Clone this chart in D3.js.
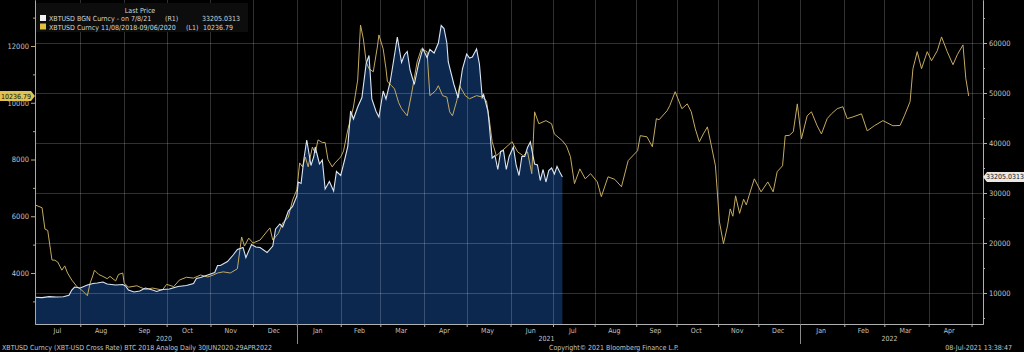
<!DOCTYPE html>
<html>
<head>
<meta charset="utf-8">
<script src="https://cdn.jsdelivr.net/npm/d3@7"></script>
<style>
  body { margin: 0; background: #000; }
  svg { display: block; }
</style>
</head>
<body>
<svg id="chart" width="1024" height="352"></svg>
<script>
// ---- data ----
// R1: XBTUSD BGN Curncy, daily, 30 Jun 2020 -> 8 Jul 2021 (right axis)
const btcDates = [
  "2020-06-30","2020-07-05","2020-07-10","2020-07-15","2020-07-20","2020-07-24","2020-07-26","2020-07-28",
  "2020-08-01","2020-08-06","2020-08-10","2020-08-13","2020-08-17","2020-08-20","2020-08-26","2020-08-31",
  "2020-09-02","2020-09-04","2020-09-08","2020-09-12","2020-09-16","2020-09-21","2020-09-24","2020-09-28",
  "2020-10-03","2020-10-09","2020-10-15","2020-10-20","2020-10-22","2020-10-25","2020-10-30","2020-11-04",
  "2020-11-06","2020-11-08","2020-11-13","2020-11-17","2020-11-20","2020-11-24","2020-11-26","2020-11-30",
  "2020-12-03","2020-12-06","2020-12-11","2020-12-15","2020-12-17","2020-12-20","2020-12-22","2020-12-26",
  "2020-12-29","2021-01-01","2021-01-02","2021-01-04","2021-01-06","2021-01-08","2021-01-11","2021-01-13",
  "2021-01-14","2021-01-17","2021-01-19","2021-01-21","2021-01-24","2021-01-27","2021-01-29","2021-02-01",
  "2021-02-04","2021-02-06","2021-02-08","2021-02-10","2021-02-13","2021-02-16","2021-02-19","2021-02-21",
  "2021-02-23","2021-02-26","2021-02-28","2021-03-03","2021-03-05","2021-03-08","2021-03-10","2021-03-13",
  "2021-03-16","2021-03-18","2021-03-20","2021-03-22","2021-03-25","2021-03-28","2021-03-31","2021-04-03",
  "2021-04-05","2021-04-08","2021-04-11","2021-04-13","2021-04-15","2021-04-17","2021-04-18","2021-04-22",
  "2021-04-25","2021-04-28","2021-05-01","2021-05-03","2021-05-05","2021-05-08","2021-05-10","2021-05-12",
  "2021-05-13","2021-05-16","2021-05-17","2021-05-19","2021-05-21","2021-05-23","2021-05-25","2021-05-27",
  "2021-05-29","2021-05-31","2021-06-03","2021-06-05","2021-06-07","2021-06-09","2021-06-11","2021-06-13",
  "2021-06-15","2021-06-18","2021-06-20","2021-06-22","2021-06-24","2021-06-26","2021-06-28","2021-06-30",
  "2021-07-02","2021-07-04","2021-07-06","2021-07-08"
];
const btcValues = [
  9140, 9080, 9280, 9200, 9250, 9550, 10600, 11200,
  11000, 11600, 11900, 12000, 12200, 11800, 11600, 11700,
  11400, 10600, 10200, 10400, 11000, 10600, 10300, 10700,
  10800, 11300, 11500, 11900, 12900, 13100, 13600, 14100,
  15500, 15500, 16300, 17600, 18700, 19100, 17100, 19700,
  19200, 19100, 18100, 19400, 22800, 23800, 23200, 26400,
  27300, 29400, 32200, 31900, 36800, 40600, 35500, 37300,
  39200, 35800, 36600, 30800, 32300, 30400, 34300, 33500,
  36900, 39300, 46400, 44800, 47200, 49100, 55900, 57500,
  48800, 46300, 45200, 50400, 48800, 52300, 55800, 61200,
  56100, 57600, 58300, 54600, 51700, 55800, 58900, 57100,
  58700, 58000, 60000, 63500, 62900, 60000, 56200, 51700,
  49000, 54800, 57800, 57000, 57200, 58800, 55800, 49100,
  49700, 46400, 43600, 37000, 37500, 34700, 38300, 38500,
  34700, 37300, 39200, 35500, 33500, 37300, 37300, 39100,
  40200, 35800, 35600, 32500, 34700, 32200, 34500, 35000,
  33800, 35300, 34200, 33205.0313
];

// L1: XBTUSD Curncy 11/08/2018-09/06/2020, laid over the current window (left axis)
const analogShiftDays = 600;
const analogDates = [
  "2018-11-08","2018-11-13","2018-11-15","2018-11-17","2018-11-19","2018-11-20","2018-11-22","2018-11-24",
  "2018-11-27","2018-11-29","2018-12-01","2018-12-04","2018-12-08","2018-12-11","2018-12-15","2018-12-17",
  "2018-12-19","2018-12-20","2018-12-23","2018-12-26","2018-12-29","2018-12-31","2019-01-04","2019-01-06",
  "2019-01-09","2019-01-10","2019-01-13","2019-01-19","2019-01-25","2019-01-30","2019-02-06","2019-02-09",
  "2019-02-14","2019-02-18","2019-02-23","2019-02-28","2019-03-05","2019-03-10","2019-03-14","2019-03-17",
  "2019-03-21","2019-03-26","2019-03-31","2019-04-02","2019-04-03","2019-04-05","2019-04-08","2019-04-11",
  "2019-04-16","2019-04-20","2019-04-23","2019-04-25","2019-04-29","2019-05-02","2019-05-06","2019-05-09",
  "2019-05-12","2019-05-14","2019-05-16","2019-05-18","2019-05-20","2019-05-23","2019-05-25","2019-05-27",
  "2019-05-30","2019-06-01","2019-06-03","2019-06-06","2019-06-08","2019-06-12","2019-06-14","2019-06-17",
  "2019-06-21","2019-06-24","2019-06-26","2019-06-28","2019-06-30","2019-07-02","2019-07-05","2019-07-08",
  "2019-07-09","2019-07-12","2019-07-14","2019-07-15","2019-07-18","2019-07-20","2019-07-23","2019-07-25",
  "2019-07-29","2019-08-01","2019-08-05","2019-08-08","2019-08-12","2019-08-14","2019-08-18","2019-08-20",
  "2019-08-23","2019-08-26","2019-08-28","2019-08-30","2019-09-02","2019-09-04","2019-09-08","2019-09-11",
  "2019-09-16","2019-09-20","2019-09-23","2019-09-25","2019-09-27","2019-09-30","2019-10-03","2019-10-08",
  "2019-10-11","2019-10-15","2019-10-19","2019-10-22","2019-10-25","2019-10-27","2019-10-30","2019-11-04",
  "2019-11-08","2019-11-10","2019-11-16","2019-11-19","2019-11-22","2019-11-25","2019-11-29","2019-12-03",
  "2019-12-07","2019-12-12","2019-12-15","2019-12-20","2019-12-25","2019-12-30","2020-01-04","2020-01-11",
  "2020-01-13","2020-01-18","2020-01-22","2020-01-25","2020-01-27","2020-02-02","2020-02-04","2020-02-08",
  "2020-02-13","2020-02-17","2020-02-20","2020-02-23","2020-02-26","2020-02-29","2020-03-03","2020-03-06",
  "2020-03-09","2020-03-12","2020-03-15","2020-03-18","2020-03-20","2020-03-22","2020-03-24","2020-03-27",
  "2020-03-30","2020-04-01","2020-04-03","2020-04-07","2020-04-12","2020-04-17","2020-04-21","2020-04-24",
  "2020-04-28","2020-04-30","2020-05-03","2020-05-06","2020-05-09","2020-05-12","2020-05-16","2020-05-19",
  "2020-05-23","2020-05-26","2020-05-30","2020-06-02","2020-06-06","2020-06-10","2020-06-13","2020-06-17",
  "2020-06-23","2020-06-27","2020-07-02","2020-07-08","2020-07-15","2020-07-20","2020-07-23","2020-07-27",
  "2020-07-29","2020-08-01","2020-08-04","2020-08-08","2020-08-11","2020-08-15","2020-08-18","2020-08-22",
  "2020-08-26","2020-08-29","2020-09-02","2020-09-04","2020-09-06"
];
const analogValues = [
  6400, 6300, 5550, 5500, 4800, 4460, 4450, 4390,
  4100, 4250, 4000, 3750, 3500, 3400, 3200, 3650,
  3930, 4100, 3950, 3880, 3800, 3880, 3720, 3950,
  4000, 3650, 3500, 3550, 3420, 3470, 3400, 3600,
  3520, 3750, 3850, 3820, 3930, 3860, 3930, 4000,
  4040, 4000, 4150, 4900, 5270, 4950, 5230, 5060,
  5160, 5410, 5590, 5160, 5400, 5760, 5970, 6570,
  6930, 7880, 7740, 8090, 7740, 8440, 8230, 8690,
  8600, 8600, 8000, 7740, 7880, 8090, 8300, 9040,
  9850, 10800, 12740, 12250, 11440, 11200, 11090, 12000,
  12390, 11900, 11200, 10740, 10600, 10490, 10000, 9790,
  9540, 10300, 11440, 11900, 11800, 10250, 10420, 10600,
  10250, 10200, 9680, 9540, 10070, 10600, 10250, 10140,
  10250, 10200, 10070, 9400, 8630, 8130, 8270, 8480,
  8630, 8270, 8130, 8270, 7500, 9680, 9260, 9370,
  9260, 8900, 8660, 8480, 8100, 7150, 7670, 7320,
  7500, 7210, 6690, 7390, 7300, 7040, 7960, 8310,
  8840, 8800, 8450, 9440, 9400, 9720, 9900, 10390,
  9790, 9960, 9680, 9080, 8625, 8900, 9150, 8480,
  7780, 5800, 5030, 5660, 6260, 6000, 6720, 6100,
  6600, 6400, 6720, 7320, 6860, 7210, 6860, 7570,
  7780, 8840, 8850, 8980, 9960, 8730, 9540, 9680,
  9190, 8900, 9440, 9610, 9790, 9860, 9440, 9500,
  9610, 9010, 9190, 9370, 9190, 9200, 9540, 10040,
  11200, 11800, 11200, 11800, 11480, 11830, 12320, 11800,
  11340, 11690, 12040, 10850, 10236.79
];

const leftMajor = [4000, 6000, 8000, 10000, 12000];
const leftMinor = [3000, 5000, 7000, 9000, 11000, 13000];
const rightMajor = [10000, 20000, 30000, 40000, 50000, 60000];
const rightMinor = [5000, 15000, 25000, 35000, 45000, 55000, 65000];

// ---- layout ----
const W = 1024, H = 352;
const FONT = "'Liberation Sans Narrow', 'Arial Narrow', 'DejaVu Sans Condensed', sans-serif";
const LABEL = "#c4c4c4";
const FS = 7;
const plot = { left: 35, right: 983, top: 0, bottom: 324 };

const parse = d3.timeParse("%Y-%m-%d");
const btc = btcDates.map((d, i) => ({ date: parse(d), value: btcValues[i] }));
const analog = analogDates.map((d, i) => ({
  date: d3.timeDay.offset(parse(d), analogShiftDays),
  value: analogValues[i]
}));

// the terminal's date axis isn't perfectly even, so pin a few month starts
const x = d3.scaleTime()
  .domain([new Date(2020, 5, 30), new Date(2021, 6, 1), new Date(2022, 0, 1), new Date(2022, 4, 9)])
  .range([plot.left, 553, 800, plot.right]);
const yL = d3.scaleLinear().domain([2203, 13621]).range([plot.bottom, plot.top]);
const yR = d3.scaleLinear().domain([3800, 68600]).range([plot.bottom, plot.top]);

const svg = d3.select("#chart").attr("font-family", FONT);
svg.append("rect").attr("width", W).attr("height", H).attr("fill", "#000");

// filled area under R1
svg.append("path")
  .datum(btc)
  .attr("fill", "#0c284f")
  .attr("d", d3.area().x(d => x(d.date)).y0(plot.bottom).y1(d => yR(d.value)));

// grid
const months = d3.timeMonth.range(new Date(2020, 7, 1), new Date(2022, 4, 2));
const grid = svg.append("g").attr("stroke", "rgba(255,255,255,0.19)").attr("stroke-width", 1);
grid.selectAll("line.v").data(months).enter().append("line")
  .attr("x1", d => Math.round(x(d)) + 0.5).attr("x2", d => Math.round(x(d)) + 0.5)
  .attr("y1", plot.top).attr("y2", plot.bottom);
grid.selectAll("line.h").data(rightMajor).enter().append("line")
  .attr("x1", plot.left).attr("x2", plot.right)
  .attr("y1", d => Math.round(yR(d)) + 0.5).attr("y2", d => Math.round(yR(d)) + 0.5);

// series
svg.append("path").datum(analog)
  .attr("fill", "none").attr("stroke", "#c4aa62").attr("stroke-width", 1)
  .attr("d", d3.line().x(d => x(d.date)).y(d => yL(d.value)));
svg.append("path").datum(btc)
  .attr("fill", "none").attr("stroke", "#dbe6f4").attr("stroke-width", 1.1)
  .attr("d", d3.line().x(d => x(d.date)).y(d => yR(d.value)));

// axes
function styleAxis(g, color) {
  g.attr("font-family", FONT).attr("font-size", 7.5);
  g.selectAll("path, line").attr("stroke", color);
  g.selectAll("text").attr("fill", LABEL);
}
svg.append("g").attr("transform", `translate(${plot.left},0)`)
  .call(d3.axisLeft(yL).tickValues(leftMinor).tickSize(2).tickSizeOuter(0).tickFormat(""))
  .call(g => styleAxis(g, "#b8ab82"));
svg.append("g").attr("transform", `translate(${plot.left},0)`)
  .call(d3.axisLeft(yL).tickValues(leftMajor).tickSize(4).tickSizeOuter(0).tickPadding(2).tickFormat(d3.format("d")))
  .call(g => styleAxis(g, "#b8ab82"));
svg.append("g").attr("transform", `translate(${plot.right},0)`)
  .call(d3.axisRight(yR).tickValues(rightMinor).tickSize(2).tickSizeOuter(0).tickFormat(""))
  .call(g => styleAxis(g, "#b0b0b0"));
svg.append("g").attr("transform", `translate(${plot.right},0)`)
  .call(d3.axisRight(yR).tickValues(rightMajor).tickSize(4).tickSizeOuter(0).tickPadding(2).tickFormat(d3.format("d")))
  .call(g => styleAxis(g, "#b0b0b0"));
svg.append("g").attr("transform", `translate(0,${plot.bottom})`)
  .call(d3.axisBottom(x).tickValues(months).tickSize(3).tickSizeOuter(0).tickFormat(""))
  .call(g => styleAxis(g, "#b0b0b0"));

// month labels centred in each month
const labelMonths = d3.timeMonth.range(new Date(2020, 6, 1), new Date(2022, 4, 1));
svg.append("g").selectAll("text").data(labelMonths).enter().append("text")
  .attr("x", d => (Math.max(x(d), plot.left) + x(d3.timeMonth.offset(d, 1))) / 2 - 1)
  .attr("y", 333)
  .attr("text-anchor", "middle").attr("font-size", FS).attr("fill", LABEL)
  .text(d3.timeFormat("%b"));

// years
const years = [
  { label: "2020", from: new Date(2020, 5, 30), to: new Date(2021, 0, 1) },
  { label: "2021", from: new Date(2021, 0, 1), to: new Date(2022, 0, 1) },
  { label: "2022", from: new Date(2022, 0, 1), to: new Date(2022, 4, 9) }
];
svg.append("g").selectAll("text").data(years).enter().append("text")
  .attr("x", d => (x(d.from) + x(d.to)) / 2 - 2)
  .attr("y", 341)
  .attr("text-anchor", "middle").attr("font-size", FS).attr("fill", LABEL)
  .text(d => d.label);
svg.append("g").selectAll("line").data(years.slice(1)).enter().append("line")
  .attr("x1", d => Math.round(x(d.from)) + 0.5).attr("x2", d => Math.round(x(d.from)) + 0.5)
  .attr("y1", plot.bottom).attr("y2", 344)
  .attr("stroke", "#8a8a8a");

// last-price callouts
const lastL = analog[analog.length - 1].value;
const lastR = btc[btc.length - 1].value;
const cyL = yL(lastL), cyR = yR(lastR);
svg.append("path")
  .attr("d", `M0,${cyL - 5}H31L35,${cyL}L31,${cyL + 5}H0Z`)
  .attr("fill", "#e2c352");
svg.append("text").attr("x", 16).attr("y", cyL + 2.5).attr("text-anchor", "middle")
  .attr("font-size", FS).attr("fill", "#111").text(d3.format(".2f")(lastL));
svg.append("path")
  .attr("d", `M${plot.right},${cyR}L${plot.right + 4},${cyR - 5}H1024V${cyR + 5}H${plot.right + 4}Z`)
  .attr("fill", "#e8e8e8");
svg.append("text").attr("x", 1005).attr("y", cyR + 2.5).attr("text-anchor", "middle")
  .attr("font-size", FS).attr("fill", "#111").text(lastR.toFixed(4));

// legend
const lg = svg.append("g").attr("font-size", FS).attr("fill", "#d6d6d6");
lg.append("rect").attr("x", 36).attr("y", 3).attr("width", 212).attr("height", 29).attr("fill", "#0d0d0d");
lg.append("text").attr("x", 140).attr("y", 13).attr("text-anchor", "middle").text("Last Price");
const rows = [
  { color: "#f2f2f2", name: "XBTUSD BGN Curncy -  on 7/8/21", tag: "(R1)", tagX: 165, value: "33205.0313", valueX: 240 },
  { color: "#e2c040", name: "XBTUSD Curncy 11/08/2018-09/06/2020", tag: "(L1)", tagX: 186, value: "10236.79", valueX: 233 }
];
rows.forEach((r, i) => {
  const yy = 21 + i * 8.5;
  lg.append("rect").attr("x", 40).attr("y", yy - 6).attr("width", 6).attr("height", 6).attr("fill", r.color);
  lg.append("text").attr("x", 49).attr("y", yy).text(r.name);
  lg.append("text").attr("x", r.tagX).attr("y", yy).text(r.tag);
  lg.append("text").attr("x", r.valueX).attr("y", yy).attr("text-anchor", "end").text(r.value);
});

// footer
const ft = svg.append("g").attr("font-size", FS).attr("fill", LABEL);
ft.append("text").attr("x", 2).attr("y", 350)
  .text("XBTUSD Curncy (XBT-USD Cross Rate) BTC 2018 Analog  Daily 30JUN2020-29APR2022");
ft.append("text").attr("x", 549).attr("y", 350).text("Copyright\u00a9 2021 Bloomberg Finance L.P.");
ft.append("text").attr("x", 1012).attr("y", 350).attr("text-anchor", "end").text("08-Jul-2021 13:38:47");
</script>
</body>
</html>
